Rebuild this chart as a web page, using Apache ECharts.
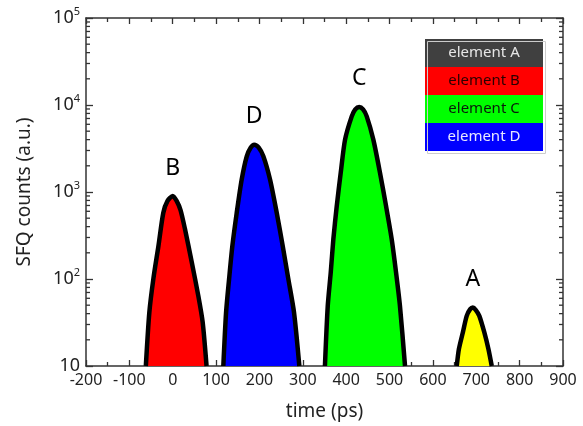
<!DOCTYPE html>
<html><head><meta charset="utf-8">
<script src="https://cdn.jsdelivr.net/npm/echarts@6/dist/echarts.min.js"></script>
<style>html,body{margin:0;padding:0;background:#fff}#c{width:583px;height:426px}</style>
</head><body><div id="c"></div>
<script>
const peakB = [[-62,10],[-54,41],[-44.7,100],[-33,239],[-21.7,578],[-12,790],[0,900],[9,790],[18,620],[28,380],[44,155],[59,64],[69,32],[78,10]];
const peakD = [[116.7,10],[123,41],[130,100],[137.5,239],[147.6,578],[159,1390],[170.7,2575],[180,3250],[188,3500],[198,3250],[209,2575],[224.4,1390],[239.8,578],[253.7,239],[266.6,100],[279.8,41],[292,10]];
const peakC = [[351,10],[357.5,49],[364.4,119],[370.4,286],[378.2,687],[387.4,1660],[397.4,4000],[412.8,7400],[421,8900],[430,9500],[439,8900],[447.4,7400],[462.6,4000],[478,1660],[492,687],[505,286],[515,119],[524,49],[535.7,10]];
const peakA = [[655,10],[660,15.7],[669,24.3],[678,37.7],[686,45],[692,47],[699,44],[707,37.7],[718.6,24.3],[728,15.7],[735.7,10]];
const peakLabels = ['B','D','C','A'];
const peakTops = [[0,900],[188,3500],[430,9500],[692,47]];
const peakColors = ['#ff0000','#0000ff','#00ff00','#ffff00'];
const legendNames = ['element A','element B','element C','element D'];
const legendColors = ['#404040','#ff0000','#00ff00','#0000ff'];
const legendText = ['#e6e6e6','#2a0000','#0a1a0a','#e6e6ff'];
const xMin = -200, xMax = 900, xStep = 100;
const yMin = 10, yMax = 100000;
const minorVals = [];
for (let k = 1; k <= 4; k++) for (let m = 2; m <= 9; m++) minorVals.push(m * Math.pow(10, k));

const FONT = 'Noto Sans';
function yFmt(v){
  const e = Math.round(Math.log10(v));
  if (e === 1) return '{b|10}';
  return '{b|10}{s|' + e + '}';
}
const chart = echarts.init(document.getElementById('c'), null, {renderer:'canvas'});
const peaks = [peakB, peakD, peakC, peakA];
const series = peaks.map((d,i)=>({
  type:'line', data:d, smooth:0.25, showSymbol:false, symbol:'none',
  lineStyle:{color:'#000', width:4.5, join:'round'},
  areaStyle:{color:peakColors[i], opacity:1, origin:'start'},
  z:2,
  markPoint:{
    symbol:'circle', symbolSize:0, silent:true,
    data:[{coord:peakTops[i], value:peakLabels[i]}],
    label:{show:true, formatter:peakLabels[i], color:'#000', fontSize:23, fontFamily:FONT, offset:[0,-28]}
  }
}));
series.push({
  type:'custom', coordinateSystem:'cartesian2d', data:minorVals.map(v=>[xMin,v]), silent:true, z:5, clip:false,
  renderItem:function(params, api){
    const v = api.value(1);
    const pl = api.coord([xMin, v]);
    const pr = api.coord([xMax, v]);
    return {type:'group', children:[
      {type:'line', shape:{x1:pl[0], y1:pl[1], x2:pl[0]+4, y2:pl[1]}, style:{stroke:'#333', lineWidth:1.3}},
      {type:'line', shape:{x1:pr[0], y1:pr[1], x2:pr[0]-4, y2:pr[1]}, style:{stroke:'#333', lineWidth:1.3}}
    ]};
  }
});
const axisLine = {show:true, onZero:false, lineStyle:{color:'#333', width:1.5}};
const xLabel = {color:'#222', fontSize:16, fontFamily:FONT, margin:6};
chart.setOption({
  animation:false,
  grid:{left:86, right:20, top:18, bottom:59, containLabel:false},
  xAxis:[
    {type:'value', min:xMin, max:xMax, interval:xStep, position:'bottom',
     name:'time (ps)', nameLocation:'middle', nameGap:36, nameTextStyle:{fontSize:19, color:'#222', fontFamily:FONT},
     axisLine:axisLine, axisTick:{inside:true, length:6, lineStyle:{color:'#333', width:1.3}},
     minorTick:{show:true, splitNumber:2, length:4, lineStyle:{color:'#333', width:1.3}},
     axisLabel:xLabel, splitLine:{show:false}},
    {type:'value', min:xMin, max:xMax, interval:xStep, position:'top',
     axisLine:axisLine, axisTick:{inside:true, length:6, lineStyle:{color:'#333', width:1.3}},
     minorTick:{show:true, splitNumber:2, length:4, lineStyle:{color:'#333', width:1.3}},
     axisLabel:{show:false}, splitLine:{show:false}}
  ],
  yAxis:[
    {type:'log', logBase:10, min:yMin, max:yMax, position:'left',
     name:'SFQ counts (a.u.)', nameLocation:'middle', nameGap:52, nameRotate:90,
     nameTextStyle:{fontSize:19, color:'#222', fontFamily:FONT},
     axisLine:axisLine, axisTick:{inside:true, length:7, lineStyle:{color:'#333', width:1.3}},
     axisLabel:{formatter:yFmt, margin:6, rich:{b:{fontSize:18, color:'#222', fontFamily:FONT}, s:{fontSize:11, color:'#222', fontFamily:FONT, verticalAlign:'top', padding:[0,0,12,0]}}},
     splitLine:{show:false}},
    {type:'log', logBase:10, min:yMin, max:yMax, position:'right',
     axisLine:axisLine, axisTick:{inside:true, length:7, lineStyle:{color:'#333', width:1.3}},
     axisLabel:{show:false}, splitLine:{show:false}}
  ],
  series:series,
  graphic:legendNames.map((n,i)=>({
    type:'group', left:425, top:39 + i*28,
    children:[
      {type:'rect', shape:{x:0, y:0, width:118, height:28}, style:{fill:legendColors[i]}},
      {type:'text', x:59, y:14, style:{text:n, fill:legendText[i], font:'15px "Noto Sans"', align:'center', verticalAlign:'middle'}}
    ]
  })).concat([{type:'rect', left:425, top:39, shape:{width:118, height:112}, style:{fill:'none', stroke:'#ccc', lineWidth:1}, z:10}])
});
</script></body></html>
